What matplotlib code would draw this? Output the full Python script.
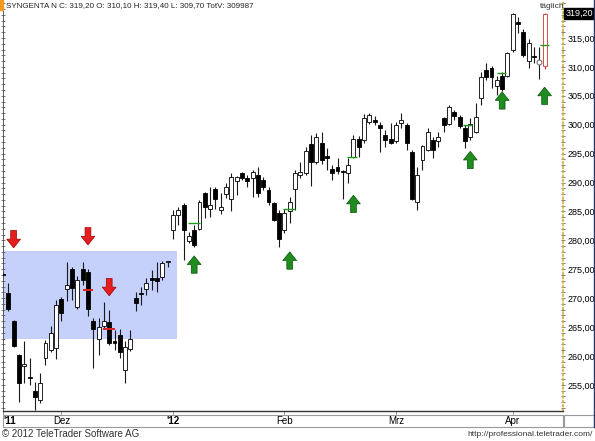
import matplotlib
matplotlib.use('Agg')
import matplotlib.pyplot as plt
import matplotlib.patches as mpatches
from matplotlib.lines import Line2D
from matplotlib.ticker import MultipleLocator, FixedLocator, FuncFormatter

plt.rcParams['font.family'] = ['Liberation Sans', 'DejaVu Sans']

# Daily candles, 16.11.2011 - 12.04.2012
opens = [274.2, 270.8, 266.1, 260.1, 258.3, 256.3, 254.0, 252.4, 259.6, 261.1,
         261.4, 269.8, 271.5, 275.0, 268.4, 275.0, 274.6, 266.1, 262.9, 265.2,
         265.8, 262.5, 263.6, 257.6, 261.2, 270.0, 270.9, 271.5, 273.5, 273.4,
         273.6, 276.3, 281.7, 284.4, 286.1, 279.8, 281.7, 282.0, 288.2, 285.5,
         288.8, 285.2, 288.0, 287.2, 290.2, 291.7, 290.7, 290.7, 291.3, 290.4,
         288.7, 286.4, 284.7, 281.7, 285.0, 288.8, 291.3, 291.7, 296.6, 293.6,
         296.8, 294.5, 292.3, 292.6, 292.0, 291.7, 294.4, 297.6, 297.3, 300.4,
         300.9, 299.9, 298.2, 297.6, 297.1, 300.3, 300.0, 295.2, 286.7, 293.9,
         295.6, 297.3, 297.1, 301.1, 300.1, 302.2, 301.3, 299.4, 297.8, 298.8,
         304.6, 309.4, 309.8, 306.7, 308.4, 308.4, 312.9, 317.8, 316.1, 311.0,
         311.9, 310.9, 310.1]
highs = [274.6, 272.7, 266.3, 260.4, 262.5, 259.7, 255.5, 257.0, 262.8, 265.2,
         269.7, 270.2, 276.3, 275.3, 273.9, 276.3, 275.1, 266.6, 266.5, 269.4,
         268.0, 264.5, 264.7, 262.5, 264.5, 271.1, 272.0, 273.4, 274.9, 276.3,
         276.5, 276.5, 285.2, 285.8, 286.4, 281.5, 282.7, 287.0, 288.3, 289.3,
         289.3, 288.2, 289.9, 291.6, 291.1, 291.9, 291.3, 292.1, 292.7, 291.0,
         289.3, 286.7, 285.2, 285.5, 287.5, 292.1, 293.6, 296.2, 298.2, 298.5,
         298.8, 295.9, 293.0, 294.2, 292.1, 294.2, 298.2, 298.1, 301.9, 302.1,
         301.5, 300.5, 299.1, 300.3, 300.5, 302.0, 300.3, 295.7, 292.7, 296.5,
         299.4, 297.8, 298.7, 301.4, 303.4, 302.6, 301.7, 300.0, 301.1, 303.7,
         309.1, 310.7, 310.2, 308.4, 309.1, 312.6, 319.3, 318.6, 316.5, 314.8,
         313.5, 313.5, 319.4]
lows = [273.8, 267.7, 261.6, 252.1, 255.3, 254.9, 250.7, 251.9, 258.4, 260.6,
        259.5, 266.1, 269.5, 269.7, 268.2, 272.3, 266.9, 257.9, 260.2, 264.9,
        261.9, 261.1, 259.6, 255.4, 260.9, 267.7, 268.8, 270.5, 271.4, 271.1,
        273.2, 275.4, 280.3, 282.7, 276.6, 279.6, 278.8, 281.8, 283.8, 284.0,
        285.5, 284.6, 287.4, 285.0, 287.8, 290.4, 289.3, 287.5, 287.5, 288.7,
        286.1, 283.3, 278.9, 281.2, 283.0, 285.2, 290.7, 291.3, 289.4, 293.2,
        293.2, 292.1, 290.4, 291.5, 287.2, 289.9, 294.2, 294.4, 296.8, 300.2,
        300.0, 295.2, 296.2, 296.7, 296.8, 299.4, 295.6, 286.9, 285.2, 292.1,
        295.4, 294.2, 296.1, 298.8, 300.0, 300.8, 299.4, 295.9, 297.3, 298.5,
        303.4, 307.7, 306.3, 305.2, 305.8, 308.2, 312.6, 315.8, 311.8, 309.8,
        310.7, 307.9, 309.7]
closes = [274.0, 268.2, 261.8, 255.4, 258.6, 256.2, 252.9, 255.3, 262.2, 263.9,
          268.8, 267.4, 272.3, 271.7, 273.1, 273.1, 268.2, 264.6, 265.0, 266.1,
          262.2, 262.3, 260.7, 261.5, 262.9, 269.2, 270.7, 272.6, 273.1, 272.9,
          276.0, 276.3, 284.4, 285.2, 281.7, 280.7, 279.2, 286.7, 285.8, 286.1,
          287.2, 285.7, 289.2, 290.9, 290.9, 290.7, 290.3, 291.9, 288.2, 289.2,
          286.7, 283.5, 280.3, 284.8, 286.7, 291.7, 291.9, 295.4, 293.5, 297.9,
          293.9, 294.3, 291.6, 292.0, 291.9, 293.0, 297.6, 296.1, 301.1, 301.7,
          300.5, 299.5, 297.3, 296.8, 300.0, 300.9, 296.8, 287.1, 291.3, 296.3,
          298.8, 295.7, 297.9, 300.0, 303.1, 301.5, 299.7, 297.1, 300.2, 301.4,
          308.3, 308.2, 308.2, 307.7, 306.1, 312.4, 319.2, 317.5, 312.1, 314.1,
          311.7, 310.9, 319.2]

month_pos = [0, 11, 32, 53, 74, 96]
month_labels = ["'11", 'Dez', "'12", 'Feb', 'Mrz', 'Apr']

# shaded range (start idx, end idx, low, high)
box_start, box_end = 0, 32.8
box_low, box_high = 262.9, 278.2

# signal arrows: candle index and tip price
sell_idx = [2, 16, 20]
sell_tip = [278.7, 279.2, 270.4]
buy_idx = [36, 54, 66, 88, 94, 102]
buy_tip = [277.3, 278.0, 287.8, 295.4, 305.7, 306.5]

# small marker lines (start idx, end idx, price)
red_lines = [(15.0, 17.0, 271.4), (18.9, 21.1, 264.7)]
green_lines = [(34.8, 37.1, 283.0), (52.7, 55.0, 285.4), (64.8, 66.7, 294.4),
               (86.6, 88.3, 300.0), (93.0, 94.7, 309.0), (101.1, 102.8, 313.8)]

fig = plt.figure(figsize=(5.95, 4.41), dpi=100)
ax = fig.add_axes([3 / 595, 30 / 441, 560 / 595, 409 / 441])

ax.add_patch(mpatches.Rectangle((box_start, box_low), box_end - box_start, box_high - box_low,
                                facecolor='#c5d1fb', edgecolor='none', zorder=1))

n = len(opens)
for i in range(n):
    o, h, l, c = opens[i], highs[i], lows[i], closes[i]
    last = i == n - 1
    edge = '#d03030' if last else 'black'
    ax.vlines(i, l, h, color='#d03030' if last else '#1a1a1a', lw=0.8, zorder=2)
    lo, hi = min(o, c), max(o, c)
    if hi - lo < 0.25:
        mid = (hi + lo) / 2
        lo, hi = mid - 0.12, mid + 0.12
    face = 'black' if (c < o and not last) else 'white'
    ax.bar(i, hi - lo, 0.74, bottom=lo, facecolor=face, edgecolor=edge, lw=0.6, zorder=3)

# open circle on the doji before the last day
ax.plot(101, closes[101], 'o', mfc='white', mec='#777777', ms=3.5, mew=0.8, zorder=4)

for s, e, p in red_lines:
    ax.hlines(p, s, e, color='#e02020', lw=1.4, zorder=4)
for s, e, p in green_lines:
    ax.hlines(p, s, e, color='#1f9a1f', lw=1.0, zorder=4)

arrow_len = 3.0
for i, tip in zip(sell_idx, sell_tip):
    ax.add_patch(mpatches.FancyArrow(i, tip + arrow_len, 0, -arrow_len, width=1.1, head_width=2.6,
                                     head_length=1.5, length_includes_head=True,
                                     fc='#e41e1e', ec='#a00000', lw=0.5, zorder=5))
for i, tip in zip(buy_idx, buy_tip):
    ax.add_patch(mpatches.FancyArrow(i, tip - arrow_len, 0, arrow_len, width=1.1, head_width=2.6,
                                     head_length=1.5, length_includes_head=True,
                                     fc='#1e8c1e', ec='#0b520b', lw=0.5, zorder=5))

ax.set_xlim(0, 105.46)
ax.set_ylim(250.47, 321.23)

# y axis on the right, german number format
ax.yaxis.tick_right()
ax.yaxis.set_major_locator(FixedLocator(list(range(255, 316, 5))))
ax.yaxis.set_minor_locator(MultipleLocator(1))
ax.yaxis.set_major_formatter(FuncFormatter(lambda v, p: f'{v:.2f}'.replace('.', ',')))
ax.tick_params(axis='y', which='both', left=True, right=True, labelleft=False, labelright=True,
               direction='inout', length=3, width=0.6, color='#666666', labelsize=6.5, pad=1.5)

ax.set_xticks(month_pos, month_labels)
ax.tick_params(axis='x', direction='out', length=3, width=0.6, color='#888888', labelsize=7, pad=0.5)
for lab in ax.get_xticklabels():
    if lab.get_text().startswith("'"):
        lab.set_fontweight('bold')
ax.get_xticklabels()[0].set_ha('left')

ax.spines['top'].set_visible(False)
ax.spines['left'].set_color('#444444')
ax.spines['left'].set_linewidth(0.6)
ax.spines['bottom'].set_color('#333333')
ax.spines['bottom'].set_linewidth(1.0)
ax.spines['right'].set_color('#d0b040')
ax.spines['right'].set_linestyle(':')
ax.spines['right'].set_linewidth(1.2)

# last price tag
ax.annotate(f'{closes[-1]:.2f}'.replace('.', ','), xy=(1, closes[-1]), xycoords=('axes fraction', 'data'),
            xytext=(1.8, 0), textcoords='offset points', ha='left', va='center', fontsize=6.5,
            color='white', bbox=dict(boxstyle='square,pad=0.12', fc='black', ec='black'), zorder=6)

# date band and frame
fig.add_artist(mpatches.Rectangle((3 / 595, 14 / 441), 560 / 595, 12 / 441, transform=fig.transFigure,
                                  fill=False, ec='#9a9a9a', lw=0.8))
fig.add_artist(mpatches.Rectangle((564 / 595, 14 / 441), 30 / 595, 12 / 441, transform=fig.transFigure,
                                  fill=False, ec='#9a9a9a', lw=0.8))
fig.add_artist(Line2D([594 / 595, 594 / 595], [14 / 441, 1], transform=fig.transFigure,
                      color='#2a3470', lw=1.0))
fig.add_artist(mpatches.Rectangle((0, 1 - 10 / 441), 3 / 595, 10 / 441, transform=fig.transFigure,
                                  color='#f29a1e'))

fig.text(6 / 595, 1 - 6 / 441, 'SYNGENTA N C: 319,20 O: 310,10 H: 319,40 L: 309,70 TotV: 309987',
         fontsize=5.8, ha='left', va='center', color='#222222')
fig.text(552 / 595, 1 - 7 / 441, 'täglich', fontsize=6, ha='center', va='center', color='#333333')
fig.text(2 / 595, 1 - 434 / 441, '© 2012 TeleTrader Software AG', fontsize=7, ha='left', va='center',
         color='#333333')
fig.text(593 / 595, 1 - 434 / 441, 'http://professional.teletrader.com/', fontsize=6, ha='right',
         va='center', color='#333333')

plt.savefig('out.png', dpi=100)
